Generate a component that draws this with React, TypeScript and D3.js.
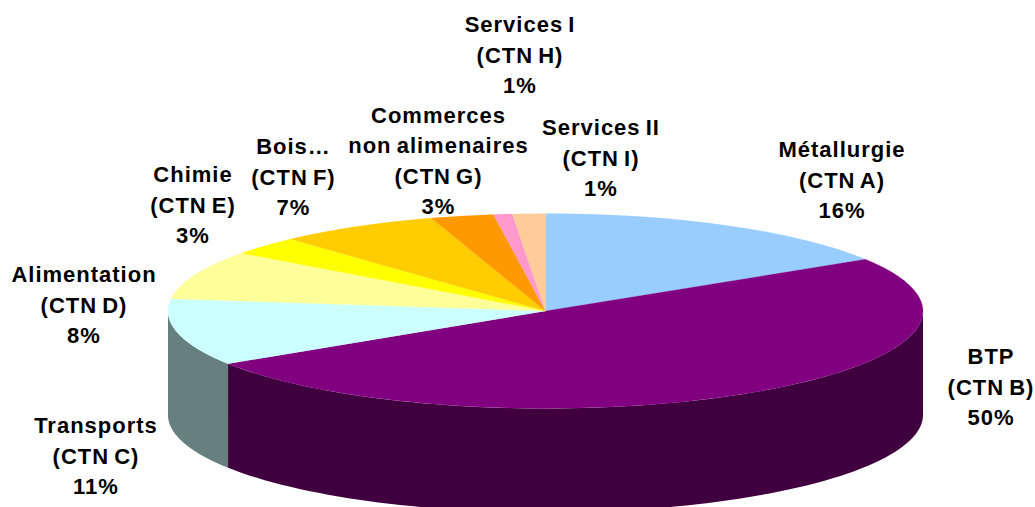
import React from "react";
import * as d3 from "d3";

const names = ["Métallurgie", "BTP", "Transports", "Alimentation", "Chimie", "Bois…", "Commerces", "Services I", "Services II"];
const values = [16.1, 49.8, 11.1, 8.1, 3.1, 6.9, 2.7, 0.8, 1.4];
const topColors = ["#99CCFF", "#800080", "#CCFFFF", "#FFFF99", "#FFFF00", "#FFCC00", "#FF9900", "#FF99CC", "#FFCC99"];
const sideColors = ["#4D6680", "#400040", "#668080", "#80804D", "#808000", "#806600", "#804D00", "#804D66", "#80664D"];
const labelLines = [
  ["Métallurgie", "(CTN A)", "16%"],
  ["BTP", "(CTN B)", "50%"],
  ["Transports", "(CTN C)", "11%"],
  ["Alimentation", "(CTN D)", "8%"],
  ["Chimie", "(CTN E)", "3%"],
  ["Bois…", "(CTN F)", "7%"],
  ["Commerces", "non alimenaires", "(CTN G)", "3%"],
  ["Services I", "(CTN H)", "1%"],
  ["Services II", "(CTN I)", "1%"],
];
const labelCx = [842, 991, 96, 84, 193, 293.5, 438.5, 520, 601];
const labelFirstBaseline = [157, 364, 433, 282, 182, 154, 122.7, 32, 135];

const W = 1035, H = 507;
const cx = 545.5, cy = 311, rx = 377.5, ry = 97.5, depth = 104;

export default function App() {
  const arcs = d3.pie<number>().sort(null).value(d => d)(values);
  const arcGen = d3.arc<d3.PieArcDatum<number>>().innerRadius(0).outerRadius(rx);
  const sy = ry / rx;
  const pt = (a: number): [number, number] => [cx + rx * Math.sin(a), cy - ry * Math.cos(a)];
  const walls = arcs.map((d, i) => {
    const a0 = Math.max(d.startAngle, Math.PI / 2);
    const a1 = Math.min(d.endAngle, (3 * Math.PI) / 2);
    if (a1 <= a0) return null;
    const s = d3.scaleLinear().domain([0, 80]).range([a0, a1]);
    const top = d3.range(81).map(k => pt(s(k)));
    const bottom = top.map(([x, y]) => [x, y + depth] as [number, number]).reverse();
    return <path key={i} d={d3.line()([...top, ...bottom]) + "Z"} fill={sideColors[i]} />;
  });
  return (
    <svg width={W} height={H} style={{ position: "absolute", left: 0, top: 0 }}>
      <rect width={W} height={H} fill="#fff" />
      {walls}
      <g transform={`translate(${cx},${cy}) scale(1,${sy})`}>
        {arcs.map((d, i) => (
          <path key={names[i]} d={arcGen(d)!} fill={topColors[i]} stroke={topColors[i]} strokeWidth={0.3} />
        ))}
      </g>
      <g fontFamily="'Liberation Sans', Arial, sans-serif" fontWeight="bold" fontSize={22} letterSpacing={1} wordSpacing={-2} fill="#000" textAnchor="middle">
        {labelLines.map((lines, i) => (
          <text key={i} x={labelCx[i]} y={labelFirstBaseline[i]}>
            {lines.map((t, j) => (
              <tspan key={j} x={labelCx[i]} dy={j === 0 ? 0 : 30.5}>{t}</tspan>
            ))}
          </text>
        ))}
      </g>
    </svg>
  );
}
